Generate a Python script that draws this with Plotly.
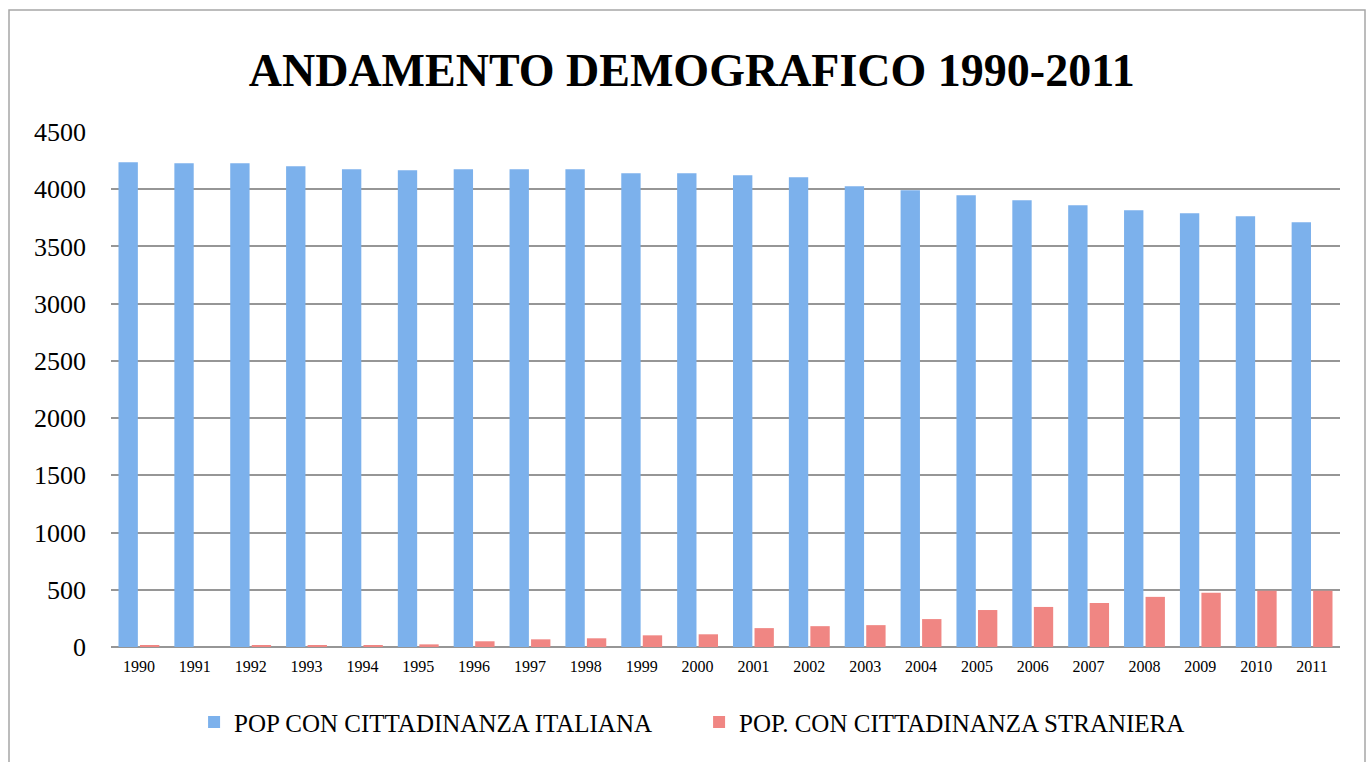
import plotly.graph_objects as go

years = [str(y) for y in range(1990, 2012)]
pop_italiana = [4235, 4227, 4227, 4200, 4174, 4166, 4174, 4174, 4174, 4140, 4140,
                4122, 4105, 4026, 3991, 3947, 3904, 3860, 3816, 3790, 3764, 3712]
pop_straniera = [10, 0, 10, 10, 10, 23, 50, 67, 76, 102, 111,
                 165, 182, 191, 244, 323, 350, 385, 438, 473, 491, 491]
y_ticks = list(range(0, 4501, 500))

FONT = "Liberation Serif"

fig = go.Figure()
fig.add_trace(go.Bar(x=years, y=pop_italiana, name="POP CON CITTADINANZA ITALIANA",
                     marker=dict(color="#7cb1ec", line=dict(width=0))))
fig.add_trace(go.Bar(x=years, y=pop_straniera, name="POP. CON CITTADINANZA STRANIERA",
                     marker=dict(color="#f08683", line=dict(width=0))))

fig.update_layout(
    width=1367, height=762,
    margin=dict(l=111, r=27, t=132, b=115),
    paper_bgcolor="white", plot_bgcolor="white",
    barmode="group", bargap=0.23, bargroupgap=0.1,
    title=dict(text="<b>ANDAMENTO DEMOGRAFICO 1990-2011</b>",
               font=dict(family=FONT, size=46, color="black"),
               x=0.506, xref="container", xanchor="center",
               y=1 - 70 / 762, yref="container", yanchor="middle"),
    font=dict(family=FONT, color="black"),
    showlegend=True,
    legend=dict(orientation="h", x=0.4785, xanchor="center", y=-0.146, yanchor="middle",
                font=dict(family=FONT, size=25, color="black"),
                entrywidth=460, entrywidthmode="pixels", itemsizing="constant"),
    xaxis=dict(type="category", tickfont=dict(size=16), showgrid=False, showline=False,
               ticks="", zeroline=False, ticklabelstandoff=8),
    yaxis=dict(range=[0, 4500], tickvals=y_ticks, tickfont=dict(size=26),
               showgrid=True, gridcolor="#969696", gridwidth=2,
               zeroline=True, zerolinecolor="#969696", zerolinewidth=2,
               showline=False, ticks="", ticklabelstandoff=24),
)

# outer chart border
fig.add_shape(type="rect", xref="paper", yref="paper",
              x0=(9 - 111) / 1229, x1=(1365 - 111) / 1229,
              y0=(647 - 775) / 515, y1=(647 - 10) / 515,
              line=dict(color="#a6a6a6", width=1.5), fillcolor="rgba(0,0,0,0)", layer="below")

fig.write_html("out.html",
               config={"displayModeBar": False},
               post_script="document.body.style.margin='0';document.body.style.padding='0';")
